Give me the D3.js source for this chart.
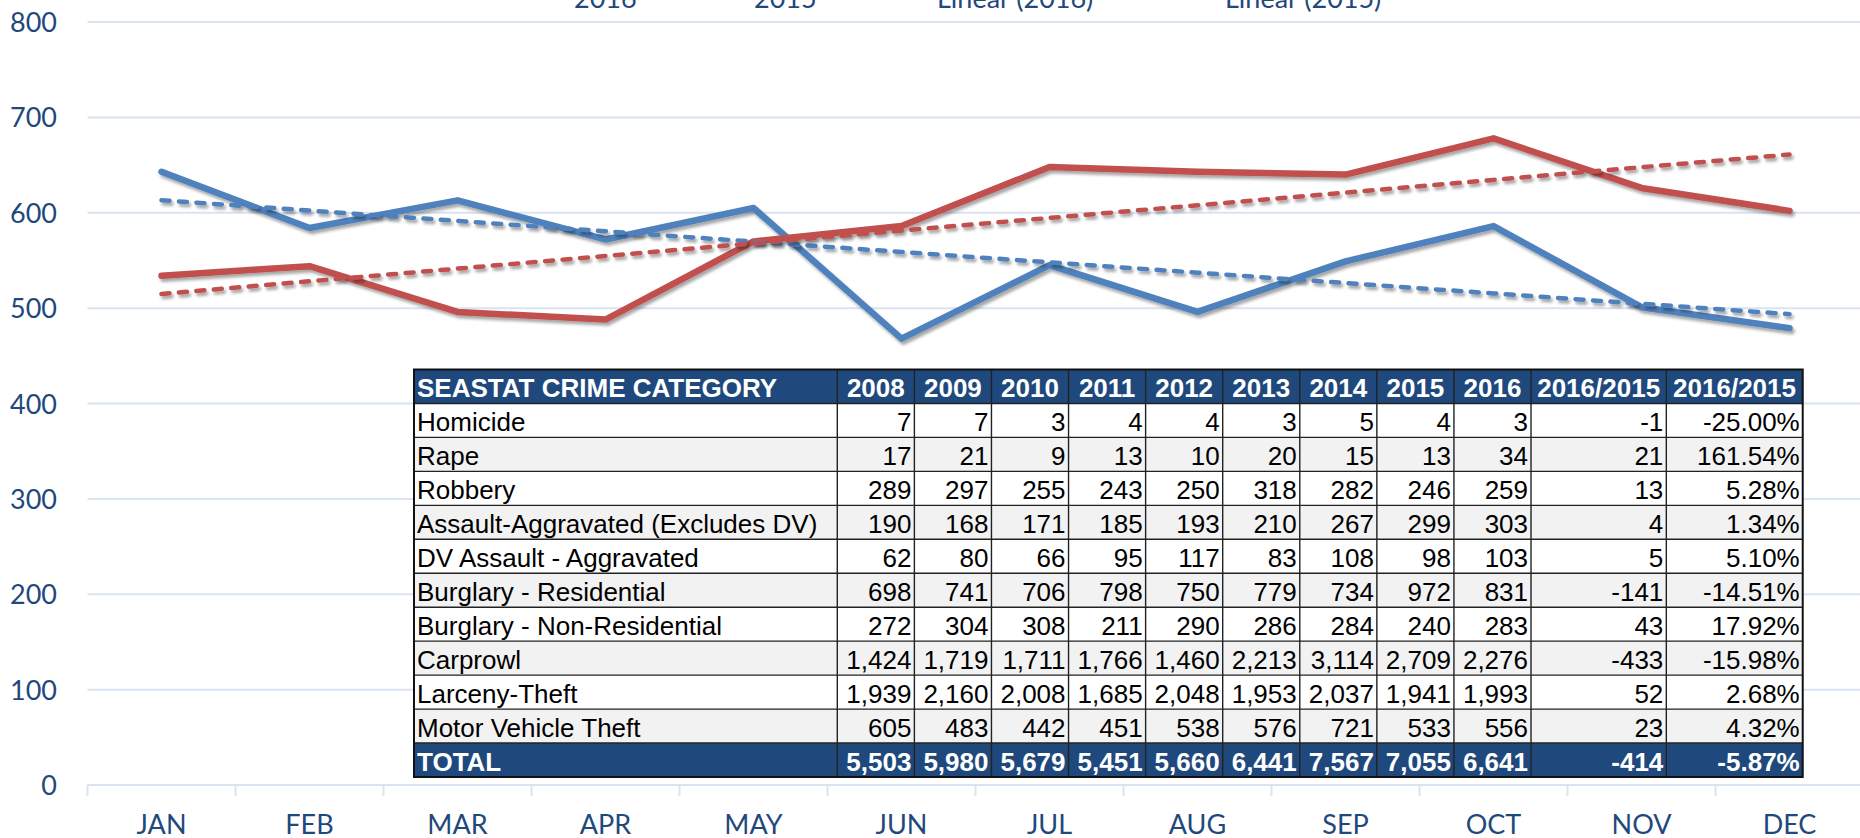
<!DOCTYPE html>
<meta charset="utf-8">
<style>

    body {
        margin: 0;
        background: #fff;
        overflow: hidden;
    }

    .axis-label {
        font-family: Lato, "Open Sans", sans-serif;
        font-size: 27px;
        fill: #1f497d;
    }

    .grid line {
        stroke: #d9e3f1;
        stroke-width: 2px;
    }

    .crime-table text {
        font-family: "Liberation Sans", Arial, sans-serif;
        font-size: 26px;
    }

</style>
<svg width="1860" height="838"></svg>
<script src="https://cdn.jsdelivr.net/npm/d3@7/dist/d3.min.js"></script>
<script>

    // monthly counts
    var months = ["JAN", "FEB", "MAR", "APR", "MAY", "JUN", "JUL", "AUG", "SEP", "OCT", "NOV", "DEC"];
    var values2016 = [643, 584, 613, 572, 605, 468, 545, 496, 549, 586, 501, 479];
    var values2015 = [534, 544, 496, 488, 570, 586, 648, 643, 640, 678, 626, 602];
    var yTicks = [0, 100, 200, 300, 400, 500, 600, 700, 800];

    // crime table
    var tableYears = ["2008", "2009", "2010", "2011", "2012", "2013", "2014", "2015", "2016"];
    var crimeCategories = ["Homicide", "Rape", "Robbery", "Assault-Aggravated (Excludes DV)", "DV Assault - Aggravated",
        "Burglary - Residential", "Burglary - Non-Residential", "Carprowl", "Larceny-Theft", "Motor Vehicle Theft"];
    var counts2008 = [7, 17, 289, 190, 62, 698, 272, 1424, 1939, 605];
    var counts2009 = [7, 21, 297, 168, 80, 741, 304, 1719, 2160, 483];
    var counts2010 = [3, 9, 255, 171, 66, 706, 308, 1711, 2008, 442];
    var counts2011 = [4, 13, 243, 185, 95, 798, 211, 1766, 1685, 451];
    var counts2012 = [4, 10, 250, 193, 117, 750, 290, 1460, 2048, 538];
    var counts2013 = [3, 20, 318, 210, 83, 779, 286, 2213, 1953, 576];
    var counts2014 = [5, 15, 282, 267, 108, 734, 284, 3114, 2037, 721];
    var counts2015 = [4, 13, 246, 299, 98, 972, 240, 2709, 1941, 533];
    var counts2016 = [3, 34, 259, 303, 103, 831, 283, 2276, 1993, 556];

    const BLUE = "#4f81bd";
    const RED = "#c0504d";
    const NAVY = "#1f497d";
    const LINE_WIDTH = 6.5;
    const TREND_WIDTH = 4.5;
    const TREND_DASH = "8 9.5";

    var svg = d3.select("svg"),
        width = +svg.attr("width"),
        height = +svg.attr("height");

    var x = d3.scaleBand()
        .domain(months)
        .range([87.5, 87.5 + 148 * 12]);

    var y = d3.scaleLinear()
        .domain([0, 800])
        .range([785, 22]);

    function cx(m) {
        return x(m) + x.bandwidth() / 2;
    }

    // soft shadow like the spreadsheet lines
    var defs = svg.append("defs");
    var shadow = defs.append("filter")
        .attr("id", "shadow")
        .attr("x", "-5%").attr("y", "-20%")
        .attr("width", "110%").attr("height", "140%");
    shadow.append("feDropShadow")
        .attr("dx", 2).attr("dy", 3)
        .attr("stdDeviation", 1.8)
        .attr("flood-color", "#000")
        .attr("flood-opacity", 0.35);

    // gridlines
    svg.append("g")
        .attr("class", "grid")
        .selectAll("line")
        .data(yTicks.filter(function (t) { return t > 0; }))
        .enter().append("line")
        .attr("x1", x.range()[0])
        .attr("x2", width)
        .attr("y1", function (d) { return y(d); })
        .attr("y2", function (d) { return y(d); });

    // x axis line with tick marks between months
    var axis = svg.append("g").attr("class", "grid");
    axis.append("line")
        .attr("x1", x.range()[0]).attr("x2", width)
        .attr("y1", y(0)).attr("y2", y(0));
    axis.selectAll(".tick")
        .data(months)
        .enter().append("line")
        .attr("class", "tick")
        .attr("x1", function (d) { return x(d); })
        .attr("x2", function (d) { return x(d); })
        .attr("y1", y(0)).attr("y2", y(0) + 11);

    svg.append("g")
        .selectAll("text")
        .data(yTicks)
        .enter().append("text")
        .attr("class", "axis-label")
        .attr("text-anchor", "end")
        .attr("x", 57)
        .attr("y", function (d) { return y(d) + 10; })
        .text(function (d) { return d; });

    svg.append("g")
        .selectAll("text")
        .data(months)
        .enter().append("text")
        .attr("class", "axis-label")
        .attr("text-anchor", "middle")
        .attr("x", function (d) { return cx(d); })
        .attr("y", 834)
        .text(function (d) { return d; });

    // series + trend lines
    var line = d3.line()
        .x(function (d, i) { return cx(months[i]); })
        .y(function (d) { return y(d); });

    function linearFit(values) {
        var xs = values.map(function (d, i) { return i + 1; });
        var mx = d3.mean(xs), my = d3.mean(values);
        var num = d3.sum(values, function (v, i) { return (xs[i] - mx) * (v - my); });
        var den = d3.sum(xs, function (v) { return (v - mx) * (v - mx); });
        var slope = num / den;
        return values.map(function (d, i) { return my + slope * (xs[i] - mx); });
    }

    var series = [
        {label: "2016", values: values2016, color: BLUE},
        {label: "2015", values: values2015, color: RED}
    ];

    svg.append("g")
        .selectAll("path")
        .data(series)
        .enter().append("path")
        .attr("fill", "none")
        .attr("stroke", function (d) { return d.color; })
        .attr("stroke-width", LINE_WIDTH)
        .attr("stroke-linecap", "round")
        .attr("stroke-linejoin", "round")
        .attr("filter", "url(#shadow)")
        .attr("d", function (d) { return line(d.values); });

    svg.append("g")
        .selectAll("path")
        .data(series)
        .enter().append("path")
        .attr("fill", "none")
        .attr("stroke", function (d) { return d.color; })
        .attr("stroke-width", TREND_WIDTH)
        .attr("stroke-linecap", "round")
        .attr("stroke-dasharray", TREND_DASH)
        .attr("filter", "url(#shadow)")
        .attr("d", function (d) { return line(linearFit(d.values)); });

    // legend (mostly cut off at the top of the picture)
    var legendItems = [
        {label: "2016", color: BLUE, dashed: false, tx: 574},
        {label: "2015", color: RED, dashed: false, tx: 754},
        {label: "Linear (2016)", color: BLUE, dashed: true, tx: 937},
        {label: "Linear (2015)", color: RED, dashed: true, tx: 1225}
    ];
    var legend = svg.append("g")
        .selectAll("g")
        .data(legendItems)
        .enter().append("g");
    legend.append("line")
        .attr("x1", function (d) { return d.tx - 80; })
        .attr("x2", function (d) { return d.tx - 12; })
        .attr("y1", -4).attr("y2", -4)
        .attr("stroke", function (d) { return d.color; })
        .attr("stroke-width", function (d) { return d.dashed ? TREND_WIDTH : LINE_WIDTH; })
        .attr("stroke-dasharray", function (d) { return d.dashed ? TREND_DASH : null; });
    legend.append("text")
        .attr("class", "axis-label")
        .attr("x", function (d) { return d.tx; })
        .attr("y", 8)
        .text(function (d) { return d.label; });

    // ---- table overlay ----
    var yearCols = [counts2008, counts2009, counts2010, counts2011, counts2012, counts2013, counts2014, counts2015, counts2016];
    // plain hyphen for negatives, as in the spreadsheet
    var fmt = function (v) { return d3.format(",")(v).replace("\u2212", "-"); };
    var pct = function (v) { return d3.format(".2f")(v).replace("\u2212", "-") + "%"; };

    var rows = crimeCategories.map(function (c, r) {
        var cells = yearCols.map(function (col) { return col[r]; });
        var diff = counts2016[r] - counts2015[r];
        return [c].concat(cells.map(fmt), [fmt(diff), pct(diff / counts2015[r] * 100)]);
    });
    var totals = yearCols.map(function (col) { return d3.sum(col); });
    var totalDiff = totals[8] - totals[7];
    var totalRow = ["TOTAL"].concat(totals.map(fmt), [fmt(totalDiff), pct(totalDiff / totals[7] * 100)]);
    var headerRow = ["SEASTAT CRIME CATEGORY"].concat(tableYears, ["2016/2015", "2016/2015"]);

    var allRows = [headerRow].concat(rows, [totalRow]);

    var colWidths = [423.3].concat(d3.range(9).map(function () { return 77.08; }), [135.3, 136.4]);
    var colEdges = [414];
    colWidths.forEach(function (w) { colEdges.push(colEdges[colEdges.length - 1] + w); });
    var tableTop = 369.5, rowH = (777 - 369.5) / 12;
    var tableRight = colEdges[colEdges.length - 1];

    var table = svg.append("g").attr("class", "crime-table");

    var rowG = table.selectAll("g.row")
        .data(allRows)
        .enter().append("g")
        .attr("class", "row")
        .attr("transform", function (d, i) { return "translate(0," + (tableTop + i * rowH) + ")"; });

    rowG.append("rect")
        .attr("x", colEdges[0])
        .attr("width", tableRight - colEdges[0])
        .attr("height", rowH)
        .attr("fill", function (d, i) {
            if (i === 0 || i === allRows.length - 1) return NAVY;
            return i % 2 === 0 ? "#f2f2f2" : "#fff";
        });

    rowG.selectAll("text")
        .data(function (d, i) {
            return d.map(function (v, j) { return {v: v, col: j, row: i}; });
        })
        .enter().append("text")
        .attr("x", function (d) {
            if (d.col === 0) return colEdges[0] + 3;
            if (d.row === 0) return (colEdges[d.col] + colEdges[d.col + 1]) / 2;
            return colEdges[d.col + 1] - 3;
        })
        .attr("y", rowH - 6)
        .attr("text-anchor", function (d) {
            if (d.col === 0) return "start";
            return d.row === 0 ? "middle" : "end";
        })
        .attr("font-weight", function (d) {
            return d.row === 0 || d.row === allRows.length - 1 ? "bold" : "normal";
        })
        .attr("fill", function (d) {
            return d.row === 0 || d.row === allRows.length - 1 ? "#fff" : "#000";
        })
        .text(function (d) { return d.v; });

    // cell borders
    table.append("g")
        .selectAll("line")
        .data(d3.range(1, allRows.length))
        .enter().append("line")
        .attr("x1", colEdges[0]).attr("x2", tableRight)
        .attr("y1", function (d) { return tableTop + d * rowH; })
        .attr("y2", function (d) { return tableTop + d * rowH; })
        .attr("stroke", "#222").attr("stroke-width", 1.4);

    table.append("g")
        .selectAll("line")
        .data(colEdges.slice(1, -1))
        .enter().append("line")
        .attr("x1", function (d) { return d; }).attr("x2", function (d) { return d; })
        .attr("y1", tableTop).attr("y2", tableTop + allRows.length * rowH)
        .attr("stroke", "#222").attr("stroke-width", 1.4);

    table.append("rect")
        .attr("x", colEdges[0]).attr("y", tableTop)
        .attr("width", tableRight - colEdges[0])
        .attr("height", allRows.length * rowH)
        .attr("fill", "none")
        .attr("stroke", "#111").attr("stroke-width", 2);

</script>
